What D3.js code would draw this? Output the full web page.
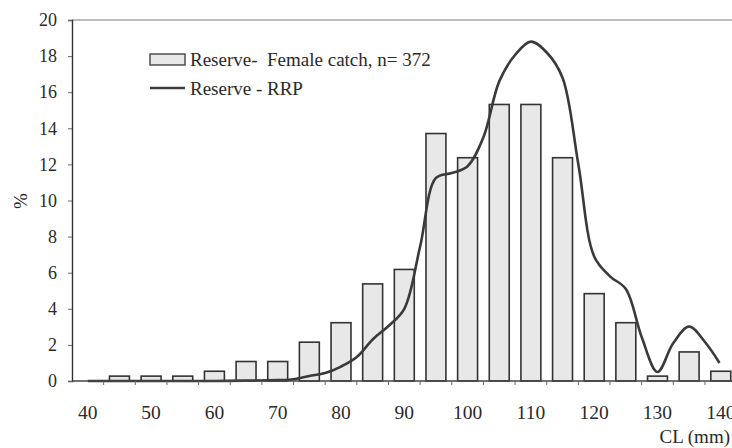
<!DOCTYPE html>
<html>
<head>
<meta charset="utf-8">
<script src="https://cdn.jsdelivr.net/npm/d3@7"></script>
<style>
  html, body { margin: 0; padding: 0; background: #fff; }
  svg { display: block; }
  text { font-family: "Liberation Serif", "Times New Roman", serif; fill: #2a2a2a; }
</style>
</head>
<body>
<svg id="chart" width="732" height="448"></svg>
<script>
// Size classes of carapace length (mm)
const categories = ["40","45","50","55","60","65","70","75","80","85","90","95","100","105","110","115","120","125","130","135","140"];
// Reserve - female catch, % per class (n = 372)
const catchPct = [0, 0.27, 0.27, 0.27, 0.54, 1.08, 1.08, 2.15, 3.23, 5.38, 6.18, 13.71, 12.37, 15.32, 15.32, 12.37, 4.84, 3.23, 0.27, 1.61, 0.54];
// Reserve - RRP curve
const rrpCL  = [40, 45, 50, 55, 60, 65, 70, 72.5, 75, 77.5, 80, 82.5, 85, 87.5, 90, 92.5, 95, 97.5, 100, 102.5, 105, 107.5, 110, 112.5, 115, 117.5, 120, 122.5, 125, 127.5, 130, 132.5, 135, 137.5, 139.8];
const rrpPct = [0, 0, 0, 0, 0, 0.02, 0.05, 0.1, 0.28, 0.44, 0.8, 1.33, 2.3, 3.05, 4.0, 7.45, 11.25, 11.52, 11.9, 13.5, 16.6, 18.06, 18.8, 18.2, 16.8, 12.0, 6.9, 5.8, 5.1, 2.44, 0.5, 2.1, 3.02, 2.16, 1.0];
const yTicks = [0, 2, 4, 6, 8, 10, 12, 14, 16, 18, 20];
const xLabels = ["40","50","60","70","80","90","100","110","120","130","140"];

const svg = d3.select("#chart");
const plotL = 72, plotR = 736.6, plotT = 20, plotB = 381;

const x = d3.scaleBand().domain(categories).range([plotL, plotR]).paddingInner(0.37).paddingOuter(0.185);
const step = x.step();
// numeric scale aligned with the band centres, used by the curve
const xl = d3.scaleLinear().domain([37.5, 142.5]).range([plotL, plotR]);
const y = d3.scaleLinear().domain([0, 20]).range([plotB, plotT]);

// top frame line
svg.append("line")
  .attr("x1", plotL).attr("x2", 732).attr("y1", plotT).attr("y2", plotT)
  .attr("stroke", "#7a7a7a").attr("stroke-width", 1.2);

// bars
svg.append("g").selectAll("rect")
  .data(categories.map((c, i) => ({ c, v: catchPct[i] })).filter(d => d.v > 0))
  .join("rect")
  .attr("x", d => x(d.c))
  .attr("width", x.bandwidth())
  .attr("y", d => y(d.v))
  .attr("height", d => y(0) - y(d.v))
  .attr("fill", "#e8e8e8")
  .attr("stroke", "#333")
  .attr("stroke-width", 1.6);

// RRP curve
const line = d3.line()
  .x((d, i) => xl(rrpCL[i]))
  .y(d => y(d))
  .curve(d3.curveCatmullRom.alpha(0.5));
svg.append("path")
  .datum(rrpPct)
  .attr("d", line)
  .attr("fill", "none")
  .attr("stroke", "#3a3a3a")
  .attr("stroke-width", 2.6)
  .attr("stroke-linejoin", "round");

// y axis
const yAxis = svg.append("g")
  .attr("transform", `translate(${plotL},0)`)
  .call(d3.axisLeft(y).tickValues(yTicks).tickSize(4).tickPadding(11).tickFormat(d3.format("d")));
yAxis.select(".domain").attr("stroke", "#333").attr("stroke-width", 1.4);
yAxis.selectAll(".tick line").attr("stroke", "#666");
yAxis.selectAll("text").attr("font-size", 18).attr("fill", "#2a2a2a")
  .attr("font-family", "Liberation Serif, Times New Roman, serif");

// x axis line and tick marks between categories
const boundaries = categories.map(c => x(c) - (step - x.bandwidth()) / 2);
const xAxisG = svg.append("g");
xAxisG.append("line")
  .attr("x1", plotL).attr("x2", plotR).attr("y1", plotB).attr("y2", plotB)
  .attr("stroke", "#444").attr("stroke-width", 1.5);
xAxisG.selectAll("line.tk").data(boundaries.slice(1)).join("line")
  .attr("class", "tk")
  .attr("x1", d => d).attr("x2", d => d)
  .attr("y1", plotB).attr("y2", plotB + 4)
  .attr("stroke", "#666").attr("stroke-width", 1);

// x labels every other class
const xLab = svg.append("g")
  .attr("transform", `translate(0,${plotB})`)
  .call(d3.axisBottom(x).tickValues(xLabels).tickSize(0).tickPadding(24.5));
xLab.select(".domain").remove();
xLab.selectAll("text").attr("font-size", 19.5).attr("fill", "#2a2a2a")
  .attr("font-family", "Liberation Serif, Times New Roman, serif");

// axis titles
svg.append("text")
  .attr("transform", "translate(27,201) rotate(-90)")
  .attr("text-anchor", "middle")
  .attr("font-size", 19)
  .text("%");
svg.append("text")
  .attr("x", 730).attr("y", 443)
  .attr("text-anchor", "end")
  .attr("font-size", 19)
  .text("CL (mm)");

// legend
const lg = svg.append("g");
lg.append("rect")
  .attr("x", 150).attr("y", 54).attr("width", 35).attr("height", 11)
  .attr("fill", "#e8e8e8").attr("stroke", "#444").attr("stroke-width", 1.4);
lg.append("text").attr("x", 190).attr("y", 66).attr("font-size", 19)
  .attr("xml:space", "preserve")
  .text("Reserve-  Female catch, n= 372");
lg.append("line")
  .attr("x1", 150).attr("x2", 185).attr("y1", 88).attr("y2", 88)
  .attr("stroke", "#3a3a3a").attr("stroke-width", 2.6);
lg.append("text").attr("x", 190).attr("y", 95).attr("font-size", 19)
  .text("Reserve - RRP");
</script>
</body>
</html>
